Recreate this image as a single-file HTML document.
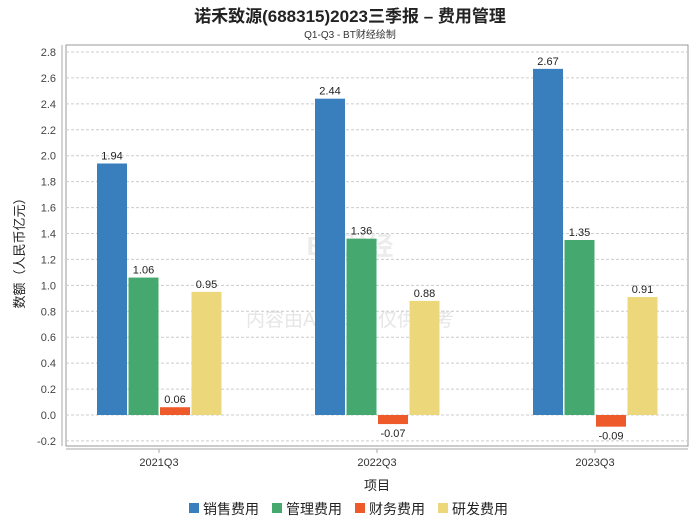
<!DOCTYPE html>
<html><head><meta charset="utf-8">
<style>
body{margin:0;background:#fff;font-family:"Liberation Sans","Noto Sans CJK SC",sans-serif;}
svg text{font-family:"Liberation Sans","Noto Sans CJK SC",sans-serif;}
</style></head>
<body>
<svg id="c" width="700" height="524" xmlns="http://www.w3.org/2000/svg">
<text x="350" y="22" text-anchor="middle" font-size="17" font-weight="bold" fill="#222">诺禾致源(688315)2023三季报 – 费用管理</text>
<text x="350" y="38" text-anchor="middle" font-size="10" fill="#333">Q1-Q3 - BT财经绘制</text>
<text x="350" y="255" text-anchor="middle" font-size="26" font-weight="bold" fill="#ececec">BT财经</text>
<text x="350" y="326" text-anchor="middle" font-size="19" fill="#e6e6e6">内容由AI生成，仅供参考</text>
<g id="grid"></g>
<g id="bars"></g>
<text transform="translate(24,250) rotate(-90)" text-anchor="middle" font-size="13" fill="#222">数额（人民币亿元）</text>
<text x="377" y="490" text-anchor="middle" font-size="13" fill="#222">项目</text>
<g id="legend"></g>
</svg>
<script>
const categories=["2021Q3","2022Q3","2023Q3"];
const seriesNames=["销售费用","管理费用","财务费用","研发费用"];
const sales=[1.94,2.44,2.67];
const admin=[1.06,1.36,1.35];
const finance=[0.06,-0.07,-0.09];
const rnd=[0.95,0.88,0.91];
const yTicks=[-0.2,0,0.2,0.4,0.6,0.8,1.0,1.2,1.4,1.6,1.8,2.0,2.2,2.4,2.6,2.8];
const series=[sales,admin,finance,rnd];
const colors=["#3a7fbd","#44a86f","#ee5a2a","#ecd77a"];
const NS="http://www.w3.org/2000/svg";
const L=66,R=688,T=45,B=446;
const y=v=>415-(v*129.64);
const x=i=>159+218*i;
function mk(t,a,p){const e=document.createElementNS(NS,t);for(const k in a)e.setAttribute(k,a[k]);p.appendChild(e);return e;}
const g=document.getElementById('grid'),b=document.getElementById('bars'),lg=document.getElementById('legend');
let fr=mk('rect',{x:L,y:T,width:R-L,height:B-T,fill:'none',stroke:'#999'},g);


let ya=mk('line',{x1:62,y1:T,x2:62,y2:B,stroke:'#aaa'},g);


let xa=mk('line',{x1:L,y1:449,x2:R,y2:449,stroke:'#aaa'},g);


yTicks.forEach(v=>{
 const yy=y(v);
 let l=mk('line',{x1:L,y1:yy,x2:R,y2:yy,stroke:'#ccc','stroke-dasharray':'3,2'},g);
 
 
 let t=mk('text',{x:56,y:yy+4,'text-anchor':'end','font-size':11,fill:'#444'},g);
 t.textContent=v.toFixed(1);
 
 
});
categories.forEach((c,i)=>{
 let t=mk('text',{x:x(i),y:466,'text-anchor':'middle','font-size':11,fill:'#333'},g);
 t.textContent=c;
 
 
 let tk=mk('line',{x1:x(i),y1:449,x2:x(i),y2:453,stroke:'#aaa'},g);
 
 
 series.forEach((s,j)=>{
  const v=s[i],bx=x(i)-62+j*31.5,bw=30;
  const y0=y(0),y1=y(v);
  let r=mk('rect',{x:bx,y:Math.min(y0,y1),width:bw,height:Math.abs(y1-y0),fill:colors[j]},b);
  
  
  let lt=mk('text',{x:bx+bw/2,y:v>=0?y1-4:y1+13,'text-anchor':'middle','font-size':11,fill:'#222'},b);
  lt.textContent=v.toFixed(2);
  
  
 });
});
let lx=189;
seriesNames.forEach((n,j)=>{
 let r=mk('rect',{x:lx,y:503,width:10,height:10,fill:colors[j]},lg);
 
 
 let t=mk('text',{x:lx+14,y:514,'font-size':14,fill:'#222'},lg);
 t.textContent=n;
 
 
 lx+=83;
});
</script>
</body></html>
